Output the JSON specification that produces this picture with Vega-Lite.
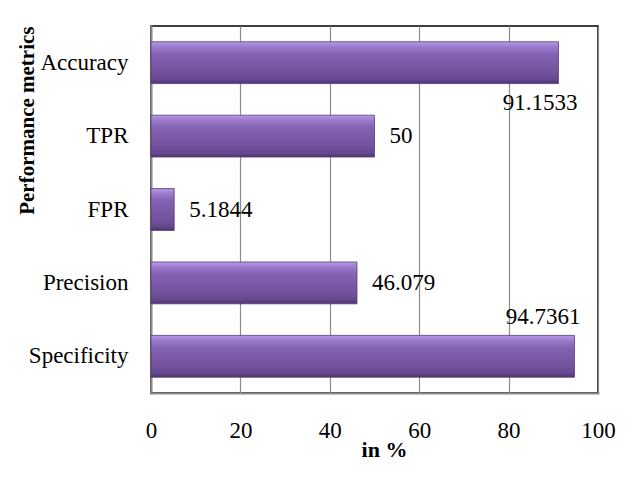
{
  "$schema": "https://vega.github.io/schema/vega-lite/v6.json",
  "autosize": {"type": "none"},
  "padding": {"left": 151, "top": 26, "right": 29, "bottom": 88},
  "width": 447,
  "height": 367,
  "background": "white",
  "data": {
    "values": [
      {"metric": "Accuracy", "value": 91.1533, "label": "91.1533"},
      {"metric": "TPR", "value": 50, "label": "50"},
      {"metric": "FPR", "value": 5.1844, "label": "5.1844"},
      {"metric": "Precision", "value": 46.079, "label": "46.079"},
      {"metric": "Specificity", "value": 94.7361, "label": "94.7361"}
    ]
  },
  "encoding": {
    "y": {
      "field": "metric",
      "type": "nominal",
      "sort": null,
      "scale": {"paddingInner": 0.43, "paddingOuter": 0.215},
      "axis": {
        "title": "Performance metrics",
        "titleFont": "Liberation Serif",
        "titleFontWeight": "bold",
        "titleFontSize": 21,
        "titleColor": "black",
        "titleAngle": -90,
        "titleX": -124,
        "titleY": 0,
        "titleAlign": "right",
        "titleBaseline": "middle",
        "labelFont": "Liberation Serif",
        "labelFontSize": 23,
        "labelColor": "black",
        "labelPadding": 23,
        "ticks": false,
        "domainColor": "#8c8c8c",
        "domainWidth": 2,
        "grid": false
      }
    },
    "x": {
      "field": "value",
      "type": "quantitative",
      "scale": {"domain": [0, 100], "nice": false},
      "axis": {
        "title": "in %",
        "titleFont": "Liberation Serif",
        "titleFontWeight": "bold",
        "titleFontSize": 22,
        "titleColor": "black",
        "titleX": 233,
        "titleY": 56,
        "titleAlign": "center",
        "titleBaseline": "middle",
        "values": [0, 20, 40, 60, 80, 100],
        "labelFont": "Liberation Serif",
        "labelFontSize": 23,
        "labelColor": "black",
        "labelPadding": 26,
        "labelFlush": false,
        "ticks": false,
        "domainColor": "#8c8c8c",
        "domainWidth": 2,
        "grid": true,
        "gridColor": "#8c8c8c",
        "gridWidth": 1.2
      }
    }
  },
  "layer": [
    {
      "mark": {
        "type": "bar",
        "stroke": "#553a7a",
        "strokeWidth": 0.8,
        "color": {
          "gradient": "linear",
          "x1": 0, "y1": 0, "x2": 0, "y2": 1,
          "stops": [
            {"offset": 0, "color": "#b89ae6"},
            {"offset": 0.12, "color": "#9c7bcc"},
            {"offset": 0.3, "color": "#8262b2"},
            {"offset": 0.7, "color": "#74549f"},
            {"offset": 0.9, "color": "#664890"},
            {"offset": 1, "color": "#4e356f"}
          ]
        }
      }
    },
    {
      "transform": [{"filter": "datum.metric !== 'Accuracy' && datum.metric !== 'Specificity'"}],
      "mark": {"type": "text", "align": "left", "dx": 15, "font": "Liberation Serif", "fontSize": 23, "color": "black"},
      "encoding": {"text": {"field": "label"}}
    },
    {
      "transform": [{"filter": "datum.metric === 'Accuracy'"}],
      "mark": {"type": "text", "align": "right", "dx": 19, "dy": 40, "font": "Liberation Serif", "fontSize": 23, "color": "black"},
      "encoding": {"text": {"field": "label"}}
    },
    {
      "transform": [{"filter": "datum.metric === 'Specificity'"}],
      "mark": {"type": "text", "align": "right", "dx": 6, "dy": -39, "font": "Liberation Serif", "fontSize": 23, "color": "black"},
      "encoding": {"text": {"field": "label"}}
    }
  ],
  "config": {
    "view": {"stroke": "black", "strokeWidth": 1.5},
    "axis": {"domainCap": "square"}
  }
}
